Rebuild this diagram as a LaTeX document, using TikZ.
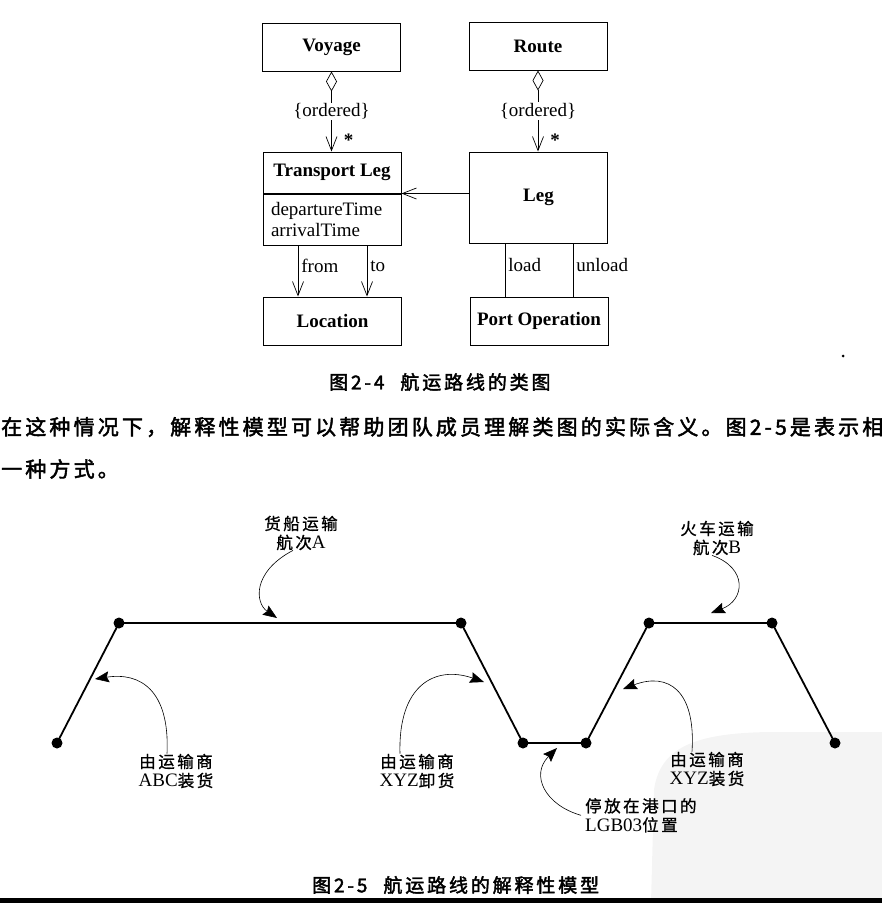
\documentclass[tikz,border=0pt]{standalone}
\usepackage{fontspec}
\setmainfont{Liberation Serif}
\newfontfamily\cjk[LetterSpace=15.0,FakeBold=1]{Noto Sans CJK SC}
\newfontfamily\cjkb[LetterSpace=15.0,FakeBold=2.2]{Noto Sans CJK SC}
\newcommand\zh[1]{{\fontsize{16.5}{19}\cjk #1}}
\usetikzlibrary{arrows.meta,positioning}

\tikzset{
  cls/.style={draw,line width=1pt,minimum width=138pt,minimum height=48pt,inner sep=0pt,font=\fontsize{19}{21}\selectfont\bfseries},
  attr/.style={draw,line width=1pt,minimum width=138pt,minimum height=51pt,inner sep=0pt,text width=122pt,align=left,font=\fontsize{19}{21}\selectfont},
  lbl/.style={inner sep=1pt,font=\fontsize{19}{21}\selectfont},
  agg/.style={line width=0.7pt,{Diamond[open,length=20pt,width=11pt]}-{Straight Barb[length=14pt,width=11pt]}},
  opn/.style={line width=0.7pt,-{Straight Barb[length=14pt,width=11pt]}},
  stop/.style={circle,fill,inner sep=0pt,minimum size=11pt},
  route/.style={line width=1.8pt},
  note/.style={align=center,inner sep=0pt,font=\fontsize{19}{19}\selectfont},
  callout/.style={line width=0.6pt,-{Stealth[length=14pt,width=11pt,inset=2pt]}},
}

\begin{document}
\begin{tikzpicture}[x=1pt,y=-1pt]
    \useasboundingbox (0,0) rectangle (882,903);
    % watermark and page edge
    \fill[gray!9] (651,903) -- (654,790) .. controls (660,745) and (700,733) .. (770,732) -- (882,732) -- (882,903) -- cycle;
    \fill (0,898) rectangle (882,903);
    % class diagram
    \node[cls] (voyage) at (331.5,47) {Voyage};
    \node[cls] (route) at (538,46) {Route};
    \node[cls,minimum height=41pt] (tleg) at (332,172.5) {Transport Leg};
    \node[attr,below=0pt of tleg] (tattr) {departureTime\\arrivalTime};
    \node[cls,minimum height=91pt] (leg) at (538.5,197.5) {Leg};
    \node[cls] (location) at (332.5,321) {Location};
    \node[cls] (portop) at (539,321) {Port Operation};
    \draw[agg] (voyage.south) -- node[lbl,fill=white] (vord) {\{ordered\}}
      node[lbl,pos=0.86,right=11pt] (vmul) {\textbf{*}} (voyage.south |- tleg.north);
    \draw[agg] (route.south) -- node[lbl,fill=white] (rord) {\{ordered\}}
      node[lbl,pos=0.86,right=11pt] (rmul) {\textbf{*}} (route.south |- leg.north);
    \draw[opn] (leg.west |- tleg.south) -- (tleg.south east);
    \draw[opn] ([xshift=-34pt]tattr.south) -- node[lbl,pos=0.4,right=2pt] (lfrom) {from}
      ([xshift=-34pt]tattr.south |- location.north);
    \draw[opn] ([xshift=35pt]tattr.south) -- node[lbl,pos=0.4,right=2pt] (lto) {to}
      ([xshift=35pt]tattr.south |- location.north);
    \draw[line width=0.7pt] ([xshift=-33.5pt]leg.south) -- node[lbl,pos=0.4,right=2pt] (lload) {load}
      ([xshift=-33.5pt]leg.south |- portop.north);
    \draw[line width=0.7pt] ([xshift=34.5pt]leg.south) -- node[lbl,pos=0.4,right=2pt] (lunload) {unload}
      ([xshift=34.5pt]leg.south |- portop.north);
    \node[circle,fill,inner sep=0pt,minimum size=3pt] (speck) at (843,356) {};
    \node[anchor=west,inner sep=0pt,font=\fontsize{19}{21}\cjkb] (cap1) at (329,382) {图2-4\hspace{16pt}航运路线的类图};
    % body text
    \node[anchor=west,inner sep=0pt,font=\fontsize{21}{24}\cjkb] (para1) at (1,427)
      {在这种情况下，解释性模型可以帮助团队成员理解类图的实际含义。图2-5是表示相};
    \node[anchor=west,inner sep=0pt,font=\fontsize{21}{24}\cjkb] (para2) at (1,469) {一种方式。};
    % route model
    \foreach \n/\x/\y in {1/57/743,2/119/623,3/461/623,4/523/743,5/586/743,6/649/623,7/772/623,8/835/743}
      \node[stop] (p\n) at (\x,\y) {};
    \draw[route] (p1.center) \foreach \n in {2,...,8} {-- (p\n.center)};
    % callouts
    \node[note] (nA) at (301,533) {\zh{货船运输}\\\zh{航次}A};
    \node[note] (nB) at (717,538) {\zh{火车运输}\\\zh{航次}B};
    \node[note] (nABC) at (176,771) {\zh{由运输商}\\ABC\zh{装货}};
    \node[note] (nXYZu) at (417,771) {\zh{由运输商}\\XYZ\zh{卸货}};
    \node[note] (nXYZl) at (707,769) {\zh{由运输商}\\XYZ\zh{装货}};
    \node[note,align=left,anchor=north west] (nLGB) at (585,798) {\zh{停放在港口的}\\LGB03\zh{位置}};
    \coordinate (tA) at (277,618);
    \coordinate (tB) at (711,613);
    \coordinate (tABC) at (95,679);
    \coordinate (tXYZu) at (484,682);
    \coordinate (tXYZl) at (623,689);
    \coordinate (tLGB) at (557,748);
    \draw[callout] ([xshift=-8pt]nA.south) .. controls (252,572) and (255,603) .. (tA);
    \draw[callout] ([xshift=-5pt]nB.south) .. controls (748,568) and (745,600) .. (tB);
    \draw[callout] ([xshift=-9pt]nABC.north) .. controls (170,690) and (140,672) .. (tABC);
    \draw[callout] ([xshift=-17pt]nXYZu.north) .. controls (398,685) and (435,665) .. (tXYZu);
    \draw[callout] ([xshift=-15pt]nXYZl.north) .. controls (696,690) and (668,672) .. (tXYZl);
    \draw[callout] ([xshift=-4pt]nLGB.west) .. controls (545,805) and (530,775) .. (tLGB);
    \node[anchor=west,inner sep=0pt,font=\fontsize{19}{21}\cjkb] (cap2) at (312,885) {图2-5\hspace{16pt}航运路线的解释性模型};
\end{tikzpicture}
\end{document}
